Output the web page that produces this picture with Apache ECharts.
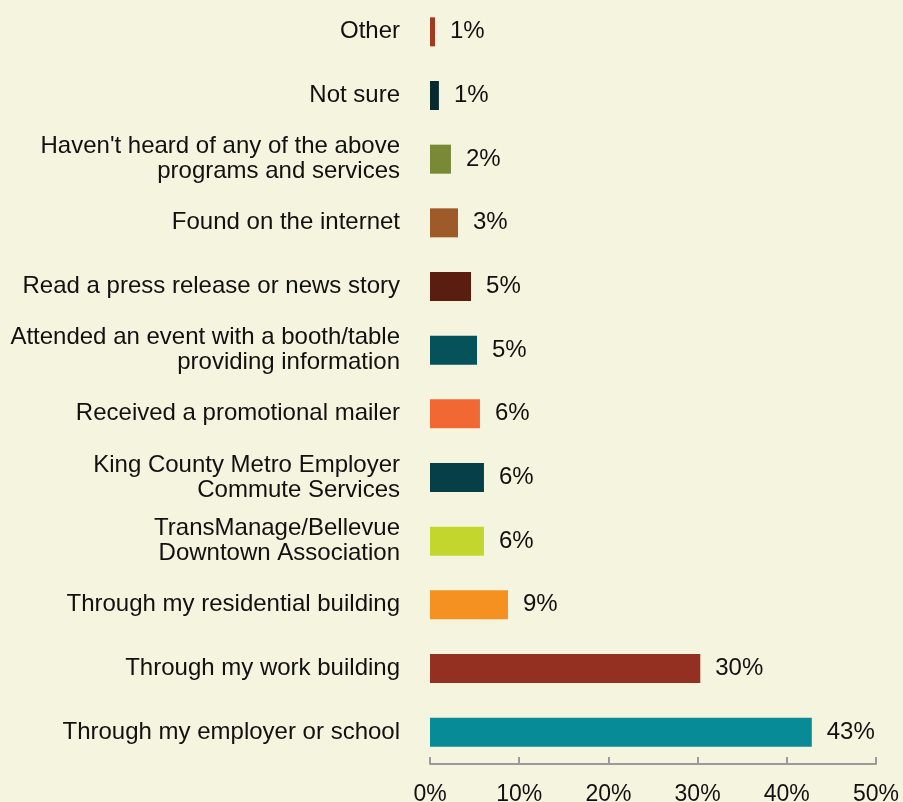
<!DOCTYPE html>
<html>
<head>
<meta charset="utf-8">
<script src="https://cdn.jsdelivr.net/npm/echarts@6/dist/echarts.min.js"></script>
<style>
html,body{margin:0;padding:0;background:#f5f4df;}
#chart{width:903px;height:802px;}
</style>
</head>
<body>
<div id="chart"></div>
<script>
const categories = [
  "Other",
  "Not sure",
  "Haven't heard of any of the above\nprograms and services",
  "Found on the internet",
  "Read a press release or news story",
  "Attended an event with a booth/table\nproviding information",
  "Received a promotional mailer",
  "King County Metro Employer\nCommute Services",
  "TransManage/Bellevue\nDowntown Association",
  "Through my residential building",
  "Through my work building",
  "Through my employer or school"
];
const values = [0.56, 1.0, 2.35, 3.14, 4.6, 5.27, 5.6, 6.05, 6.05, 8.74, 30.3, 42.8];
const valueLabels = ["1%", "1%", "2%", "3%", "5%", "5%", "6%", "6%", "6%", "9%", "30%", "43%"];
const barColors = ["#a3391f", "#062a2e", "#7a8935", "#9e5a29", "#5a1e10", "#05525a", "#f26835", "#063f48", "#c3d62e", "#f59120", "#943021", "#078b96"];
const xTicks = [0, 10, 20, 30, 40, 50];

const chart = echarts.init(document.getElementById('chart'));
chart.setOption({
  backgroundColor: '#f5f4df',
  animation: false,
  grid: {left: 430, right: 27, top: 0, bottom: 38, containLabel: false, outerBoundsMode: 'none'},
  xAxis: {
    type: 'value',
    min: xTicks[0], max: xTicks[xTicks.length - 1], interval: 10,
    axisLine: {show: true, lineStyle: {color: '#9a9a9a', width: 2}},
    axisTick: {show: true, inside: true, length: 7, lineStyle: {color: '#9a9a9a', width: 2}},
    splitLine: {show: false},
    axisLabel: {formatter: '{value}%', color: '#111', fontSize: 23, fontFamily: 'Liberation Sans', margin: 19}
  },
  yAxis: {
    type: 'category',
    inverse: true,
    data: categories,
    axisLine: {show: false},
    axisTick: {show: false},
    axisLabel: {color: '#111', fontSize: 24, fontFamily: 'Liberation Sans', margin: 30, lineHeight: 25, align: 'right'}
  },
  series: [{
    type: 'bar',
    barWidth: 29,
    data: values.map((v, i) => ({value: v, itemStyle: {color: barColors[i]}})),
    label: {
      show: true, position: 'right', distance: 15,
      color: '#111', fontSize: 24, fontFamily: 'Liberation Sans',
      formatter: p => valueLabels[p.dataIndex]
    }
  }]
});
</script>
</body>
</html>
